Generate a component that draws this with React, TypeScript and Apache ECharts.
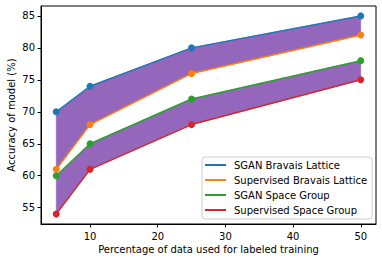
import React, { useEffect, useRef } from "react";
import * as echarts from "echarts";

const xValues = [5, 10, 25, 50];
const sganBravais = [70, 74, 80, 85];
const supBravais = [61, 68, 76, 82];
const sganSpace = [60, 65, 72, 78];
const supSpace = [54, 61, 68, 75];
const xTicks = [10, 20, 30, 40, 50];
const yTicks = [55, 60, 65, 70, 75, 80, 85];

const FONT = "DejaVu Sans";
const pairs = (ys: number[]) => xValues.map((x, i) => [x, ys[i]]);

export default function App() {
  const ref = useRef<HTMLDivElement>(null);
  useEffect(() => {
    const chart = echarts.init(ref.current!, null, { renderer: "svg" });
    const lineSeries = (name: string, ys: number[], color: string) => ({
      name,
      type: "line",
      data: pairs(ys),
      symbol: "circle",
      symbolSize: 7,
      z: 5,
      itemStyle: { color },
      lineStyle: { color, width: 1.5 },
    });
    const band = (upper: number[], lower: number[]) => ({
      type: "custom",
      z: 1,
      silent: true,
      data: xValues.map((x, i) => [x, upper[i], lower[i]]),
      renderItem: (params: any, api: any) => {
        if (params.dataIndex !== 0) return null;
        const top = xValues.map((x, i) => api.coord([x, upper[i]]));
        const bottom = xValues.map((x, i) => api.coord([x, lower[i]])).reverse();
        return {
          type: "polygon",
          shape: { points: top.concat(bottom) },
          style: { fill: "#9467bd", stroke: "#9467bd", lineWidth: 0.5 },
        };
      },
    });
    chart.setOption({
      animation: false,
      textStyle: { fontFamily: FONT },
      grid: {
        left: 41,
        right: 6,
        top: 6,
        bottom: 38,
        containLabel: false,
        outerBoundsMode: "none",
        show: true,
        borderColor: "#000",
        borderWidth: 1,
        backgroundColor: "#fff",
      },
      legend: {
        data: [
          "SGAN Bravais Lattice",
          "Supervised Bravais Lattice",
          "SGAN Space Group",
          "Supervised Space Group",
        ],
        orient: "vertical",
        left: 202,
        top: 157,
        padding: [2, 5, 3, 3],
        itemGap: 3,
        itemWidth: 21,
        itemHeight: 2,
        icon: "rect",
        backgroundColor: "rgba(255,255,255,0.8)",
        borderColor: "#cccccc",
        borderWidth: 1,
        borderRadius: 3,
        textStyle: {
          fontFamily: FONT,
          fontSize: 10,
          color: "#000",
          lineHeight: 12,
          padding: [0, 0, 0, 3],
        },
      },
      xAxis: {
        type: "value",
        min: 2.75,
        max: 52.25,
        name: "Percentage of data used for labeled training",
        nameLocation: "middle",
        nameGap: 20,
        nameMoveOverlap: false,
        nameTextStyle: { fontFamily: FONT, fontSize: 10, color: "#000" },
        axisLine: { show: true, lineStyle: { color: "#000", width: 1 } },
        axisTick: { show: true, customValues: xTicks, length: 3.5, lineStyle: { color: "#000" } },
        axisLabel: { customValues: xTicks, fontFamily: FONT, fontSize: 10, color: "#000", margin: 7 },
        splitLine: { show: false },
      },
      yAxis: {
        type: "value",
        min: 52.45,
        max: 86.55,
        name: "Accuracy of model (%)",
        nameLocation: "middle",
        nameGap: 25,
        nameRotate: 90,
        nameMoveOverlap: false,
        nameTextStyle: { fontFamily: FONT, fontSize: 10, color: "#000" },
        axisLine: { show: true, lineStyle: { color: "#000", width: 1 } },
        axisTick: { show: true, customValues: yTicks, length: 3.5, lineStyle: { color: "#000" } },
        axisLabel: { customValues: yTicks, fontFamily: FONT, fontSize: 10, color: "#000", margin: 6 },
        splitLine: { show: false },
      },
      series: [
        band(sganBravais, supBravais),
        band(sganSpace, supSpace),
        lineSeries("SGAN Bravais Lattice", sganBravais, "#1f77b4"),
        lineSeries("Supervised Bravais Lattice", supBravais, "#ff7f0e"),
        lineSeries("SGAN Space Group", sganSpace, "#2ca02c"),
        lineSeries("Supervised Space Group", supSpace, "#d62728"),
      ],
    });
    return () => chart.dispose();
  }, []);
  return <div ref={ref} style={{ width: 382, height: 262, position: "absolute", left: 0, top: 0 }} />;
}
